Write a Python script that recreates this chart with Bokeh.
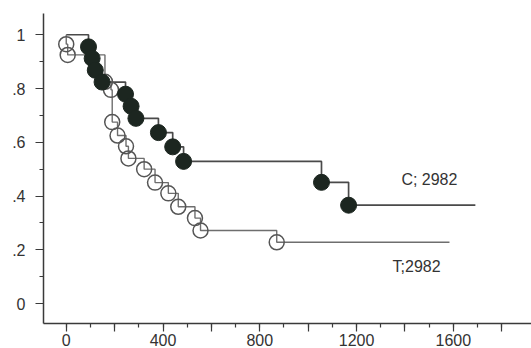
from bokeh.plotting import figure
from bokeh.models import Range1d, FixedTicker
from bokeh.embed import file_html
from bokeh.resources import INLINE
from bokeh.core.properties import value

# Kaplan-Meier style data
c_times = [0, 92, 107, 120, 148, 245, 268, 288, 381, 440, 485, 1055, 1167]
c_surv = [1.0, 0.955, 0.912, 0.868, 0.824, 0.779, 0.734, 0.689, 0.636, 0.583, 0.529, 0.451, 0.366]
c_end = 1691

t_times = [0, 0, 6, 160, 185, 190, 212, 247, 257, 322, 367, 422, 463, 532, 555, 870]
t_surv = [1.0, 0.965, 0.925, 0.825, 0.795, 0.675, 0.625, 0.585, 0.54, 0.50, 0.45, 0.41, 0.36, 0.318, 0.272, 0.228]
t_end = 1584

x_ticks = [0, 200, 400, 600, 800, 1000, 1200, 1400, 1600, 1800]
x_labels = {0: "0", 200: "", 400: "400", 600: "", 800: "800", 1000: "",
            1200: "1200", 1400: "", 1600: "1600", 1800: ""}
y_ticks = [0, 0.2, 0.4, 0.6, 0.8, 1.0]
y_labels = {0: "0", 0.2: ".2", 0.4: ".4", 0.6: ".6", 0.8: ".8", 1: "1"}

label_c = "C; 2982"
label_t = "T;2982"
label_c_pos = (1501, 0.462)
label_t_pos = (1448, 0.139)

FONT = "Liberation Sans"

p = figure(width=531, height=348, output_backend="svg", toolbar_location=None,
           x_range=Range1d(-94, 1923), y_range=Range1d(-0.074, 1.079),
           min_border_left=43, min_border_top=13, min_border_right=0, min_border_bottom=0)
p.outline_line_color = None
p.grid.visible = False
p.background_fill_color = "white"

# step curves
p.step(c_times + [c_end], c_surv + [c_surv[-1]], mode="after",
       line_color="#4a4a4a", line_width=1.7)
p.step(t_times + [t_end], t_surv + [t_surv[-1]], mode="after",
       line_color="#6e6e6e", line_width=1.4)

# markers
p.scatter(t_times[1:], t_surv[1:], marker="circle", size=15,
          fill_alpha=0, line_color="#555555", line_width=1.5)
p.scatter(c_times[1:], c_surv[1:], marker="circle", size=16,
          fill_color="#1c2620", line_color="#1c2620")

# labels
p.text(x=[label_c_pos[0], label_t_pos[0]], y=[label_c_pos[1], label_t_pos[1]],
       text=[label_c, label_t], text_font=value(FONT), text_font_size="16px",
       text_color="#333333", text_align="center", text_baseline="middle")

for ax in (p.xaxis[0], p.yaxis[0]):
    ax.axis_line_color = "#3a3a3a"
    ax.axis_line_width = 1.5
    ax.major_tick_line_color = "#3a3a3a"
    ax.minor_tick_line_color = "#3a3a3a"
    ax.major_tick_line_width = 1.2
    ax.minor_tick_line_width = 1.2
    ax.major_tick_in = 0
    ax.minor_tick_in = 0
    ax.major_tick_out = 8
    ax.minor_tick_out = 4
    ax.major_label_text_font = FONT
    ax.major_label_text_font_size = "16px"
    ax.major_label_text_color = "#333333"

p.xaxis.ticker = FixedTicker(ticks=x_ticks, minor_ticks=list(range(0, 1900, 100)))
p.xaxis.major_label_overrides = x_labels
p.xaxis.major_label_standoff = 2
p.yaxis.ticker = FixedTicker(ticks=y_ticks, minor_ticks=[0.1 * i for i in range(11)])
p.yaxis.major_label_overrides = y_labels
p.yaxis.major_label_standoff = 10

open("out.html", "w").write(file_html(p, INLINE))
